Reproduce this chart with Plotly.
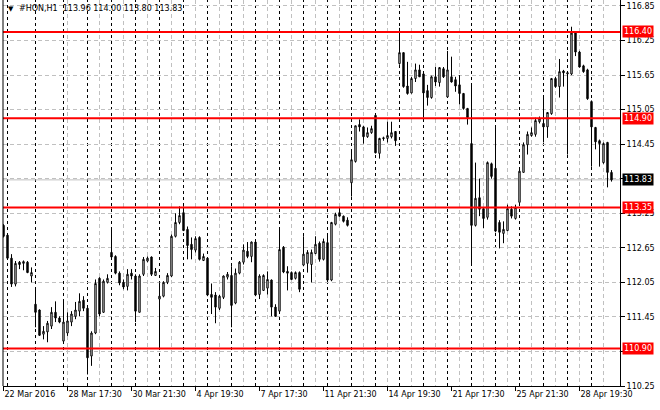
import plotly.graph_objects as go

# ---------------- data ----------------
bar_index = list(range(153))
opens = [113.04,112.87,112.47,112.02,112.40,112.38,112.40,112.16,111.67,111.57,
         111.15,111.19,111.29,111.53,111.43,111.03,111.17,111.36,111.46,111.55,
         111.74,111.60,110.77,111.17,112.12,111.53,112.05,112.57,112.50,112.21,
         112.05,111.98,112.21,112.16,111.53,112.19,112.42,112.49,112.17,111.76,
         111.81,112.05,112.16,112.85,113.09,113.26,112.97,112.71,112.61,112.83,
         112.43,112.47,111.84,111.83,111.60,111.79,112.14,112.17,111.69,112.21,
         112.40,112.59,112.50,112.75,111.84,111.91,111.95,112.09,111.62,111.55,
         112.66,112.24,112.22,112.12,112.22,112.35,112.38,112.36,112.55,112.73,
         112.45,112.74,112.09,113.06,113.26,113.20,113.13,113.78,114.15,114.79,
         114.75,114.58,114.65,114.95,114.29,114.56,114.55,114.58,114.67,115.85,
         116.04,115.46,115.34,115.59,115.74,115.67,115.38,115.26,115.62,115.52,
         115.76,115.27,115.62,115.57,115.48,115.33,115.07,114.46,113.04,113.52,
         113.33,113.18,114.11,114.03,113.09,112.90,112.95,113.32,113.16,113.44,
         113.96,114.44,114.60,114.62,114.84,114.81,114.75,114.98,115.59,115.45,
         115.72,115.67,115.67,116.38,116.05,115.81,115.74,115.19,114.74,114.51,
         114.13,114.48,113.96]
highs = [113.06,112.88,112.54,112.42,112.42,112.43,112.42,112.31,111.93,111.58,
         111.29,111.38,111.62,111.72,111.46,111.71,111.53,111.55,111.71,111.86,
         111.81,111.64,111.20,112.10,112.14,112.10,112.19,113.00,112.52,112.24,
         112.10,112.28,112.28,112.19,112.19,112.49,112.50,112.50,112.30,112.05,
         112.07,112.21,112.88,113.25,113.37,113.37,113.02,112.83,112.85,112.85,
         112.55,112.49,112.03,111.88,111.83,112.17,112.23,112.33,112.29,112.42,
         112.71,112.75,112.76,112.76,112.19,112.19,112.24,112.10,111.67,112.97,
         112.68,112.33,112.24,112.24,112.24,112.85,112.61,112.62,112.85,112.76,
         112.81,112.88,113.10,113.26,113.36,113.21,113.18,114.32,114.77,114.88,
         114.77,114.74,114.77,114.95,114.56,114.58,114.84,114.84,114.67,116.47,
         116.04,115.88,115.62,115.85,115.83,115.67,115.48,115.64,115.79,115.79,
         115.79,116.07,115.97,115.62,115.65,115.34,115.08,115.48,114.13,113.85,
         113.35,114.15,114.13,114.74,113.13,113.11,113.40,113.37,113.40,114.01,
         114.48,114.67,114.74,114.91,114.93,115.26,115.00,115.60,115.62,115.93,
         115.74,115.71,116.49,116.40,116.07,115.83,115.76,115.21,114.75,114.53,
         114.48,114.49,114.00]
lows = [112.83,112.45,111.97,111.98,112.28,112.26,112.21,112.05,111.27,111.12,
        111.06,111.01,111.24,111.36,111.34,111.02,111.12,111.29,111.41,111.46,
        111.55,110.45,110.60,111.15,111.46,111.52,112.03,112.45,112.19,112.00,
        111.93,111.91,112.10,111.36,111.53,112.16,112.40,112.16,112.16,110.89,
        111.79,112.02,112.14,112.83,113.06,112.94,112.45,112.45,112.57,112.43,
        112.42,111.81,111.50,111.34,111.57,111.76,112.10,111.27,111.67,112.19,
        112.36,112.47,112.40,111.81,111.76,111.90,111.84,111.46,111.45,111.53,
        112.21,111.91,112.09,112.10,111.88,112.33,112.22,112.05,112.54,112.41,
        112.43,112.07,112.07,113.04,113.19,113.09,113.02,113.54,114.13,114.67,
        114.46,114.56,114.63,114.29,114.20,114.51,114.48,114.55,114.42,115.83,
        115.43,115.31,115.33,115.53,115.62,114.91,115.12,115.24,115.46,115.45,
        115.60,115.26,115.52,115.36,115.14,115.05,114.79,112.36,113.02,113.20,
        112.99,113.14,113.85,112.92,112.64,112.73,112.94,113.16,113.14,113.44,
        113.96,114.27,114.58,114.58,114.81,114.48,114.56,114.96,115.43,115.26,
        115.45,114.27,115.65,115.98,115.78,115.69,115.22,114.06,114.36,114.06,
        114.11,113.70,113.80]
closes = [112.85,112.47,112.02,112.38,112.36,112.41,112.22,112.22,111.53,111.13,
          111.20,111.34,111.53,111.43,111.36,111.36,111.38,111.50,111.57,111.72,
          111.60,110.74,111.17,112.03,111.50,112.07,112.12,112.49,112.21,112.04,
          111.97,112.19,112.16,111.55,112.16,112.45,112.47,112.19,112.24,111.81,
          112.05,112.17,112.85,113.09,113.21,112.95,112.69,112.62,112.81,112.45,
          112.50,111.83,111.79,111.62,111.81,112.16,112.19,111.65,112.21,112.40,
          112.61,112.50,112.75,111.83,112.16,112.17,112.10,111.62,111.46,112.62,
          112.23,112.21,112.10,112.22,111.93,112.54,112.57,112.57,112.71,112.45,
          112.76,112.09,113.09,113.23,113.20,113.11,113.04,114.18,114.77,114.75,
          114.58,114.65,114.72,114.30,114.55,114.55,114.60,114.65,114.51,116.04,
          115.45,115.33,115.59,115.74,115.62,115.34,115.26,115.62,115.53,115.78,
          115.62,115.74,115.53,115.46,115.33,115.07,114.91,113.04,113.51,113.32,
          113.16,114.13,113.89,112.94,112.92,112.97,113.33,113.20,113.35,113.98,
          114.44,114.62,114.65,114.86,114.89,114.75,115.00,115.59,115.45,115.71,
          115.69,115.69,116.38,116.05,115.79,115.71,115.24,114.75,114.49,114.46,
          114.46,113.96,113.83]

day_starts = [1, 8, 15, 21, 27, 33, 39, 45, 51, 57, 63, 69, 75, 81, 87, 93,
              99, 105, 111, 117, 123, 129, 135, 141, 147]
time_label_idx = [0, 16, 32, 48, 64, 80, 96, 112, 128, 144]
time_labels = ["22 Mar 2016", "28 Mar 17:30", "30 Mar 21:30", "4 Apr 19:30",
               "7 Apr 17:30", "11 Apr 21:30", "14 Apr 19:30", "21 Apr 17:30",
               "25 Apr 21:30", "28 Apr 19:30"]
grid_idx = [16, 24, 30, 36, 42, 48, 54, 60, 66, 72, 78, 84, 90, 96, 102, 108,
            114, 120, 126, 132, 138, 144, 150]
price_ticks = [110.25, 110.85, 111.45, 112.05, 112.65, 113.25, 113.85,
               114.45, 115.05, 115.65, 116.25, 116.85]
price_tick_text = ["110.25", "", "111.45", "112.05", "112.65", "113.25", "",
                   "114.45", "115.05", "115.65", "116.25", "116.85"]
levels = [116.40, 114.90, 113.35, 110.90]
bid = 113.83
title_text = "#HON,H1  113.96 114.00 113.80 113.83"

FONT = "DejaVu Sans"

fig = go.Figure()
fig.add_trace(go.Candlestick(
    x=bar_index, open=opens, high=highs, low=lows, close=closes,
    increasing=dict(line=dict(color="black", width=1), fillcolor="white"),
    decreasing=dict(line=dict(color="black", width=1), fillcolor="black"),
    whiskerwidth=0, hoverinfo="skip", showlegend=False,
))

shapes = []
for d in day_starts:
    shapes.append(dict(type="line", xref="x", yref="paper", x0=d, x1=d, y0=0, y1=1,
                       line=dict(color="black", width=1, dash="3px,3px"), layer="below"))
shapes.append(dict(type="line", xref="paper", yref="y", x0=0, x1=1, y0=bid, y1=bid,
                   line=dict(color="#c0c0c0", width=1), layer="below"))
for lv in levels:
    shapes.append(dict(type="line", xref="paper", yref="y", x0=0, x1=1, y0=lv, y1=lv,
                       line=dict(color="#ff0000", width=2), layer="above"))
# left frame line
shapes.append(dict(type="line", xref="paper", yref="paper", x0=0, x1=0, y0=0, y1=1,
                   line=dict(color="black", width=1)))

annotations = []
for lv in levels:
    annotations.append(dict(xref="paper", yref="y", x=1, y=lv, xanchor="left", yanchor="middle",
                            xshift=2, text=f"{lv:.2f}", showarrow=False,
                            font=dict(family=FONT, size=8, color="white"),
                            bgcolor="#ff0000", borderpad=1))
annotations.append(dict(xref="paper", yref="y", x=1, y=bid, xanchor="left", yanchor="middle",
                        xshift=2, text=f"{bid:.2f}", showarrow=False,
                        font=dict(family=FONT, size=8, color="white"),
                        bgcolor="black", borderpad=1))
annotations.append(dict(xref="paper", yref="paper", x=0, y=1, xanchor="left", yanchor="top",
                        xshift=3, yshift=-3, text="▼", showarrow=False,
                        font=dict(family=FONT, size=7, color="black")))
annotations.append(dict(xref="paper", yref="paper", x=0, y=1, xanchor="left", yanchor="top",
                        xshift=14, yshift=-2, text=title_text, showarrow=False,
                        font=dict(family=FONT, size=8, color="black")))

fig.update_layout(
    width=660, height=410,
    margin=dict(l=3, r=40, t=0, b=24),
    paper_bgcolor="white", plot_bgcolor="white",
    font=dict(family=FONT, size=8, color="black"),
    boxgap=0.5, hovermode=False,
    shapes=shapes, annotations=annotations,
    xaxis=dict(
        range=[-0.125, 154.125], rangeslider=dict(visible=False),
        tickmode="array", tickvals=time_label_idx, ticktext=time_labels,
        ticks="outside", ticklen=4, tickcolor="black",
        ticklabelposition="outside right",
        showline=True, linecolor="black", linewidth=1,
        showgrid=False, zeroline=False,
        minor=dict(tickmode="array", tickvals=grid_idx, showgrid=True,
                   gridcolor="#c0c0c0", griddash="4px,3px", gridwidth=1, ticks=""),
        tickfont=dict(family=FONT, size=8),
    ),
    yaxis=dict(
        side="right", range=[110.25, 116.954],
        tickmode="array", tickvals=price_ticks, ticktext=price_tick_text,
        ticks="outside", ticklen=4, tickcolor="black",
        showline=True, linecolor="black", linewidth=1,
        showgrid=True, gridcolor="#c0c0c0", griddash="4px,3px", gridwidth=1,
        zeroline=False, tickfont=dict(family=FONT, size=8),
    ),
)

fig.write_html("out.html",
               config={"displayModeBar": False, "staticPlot": True},
               post_script="document.body.style.margin='0px';document.body.style.padding='0px';")
